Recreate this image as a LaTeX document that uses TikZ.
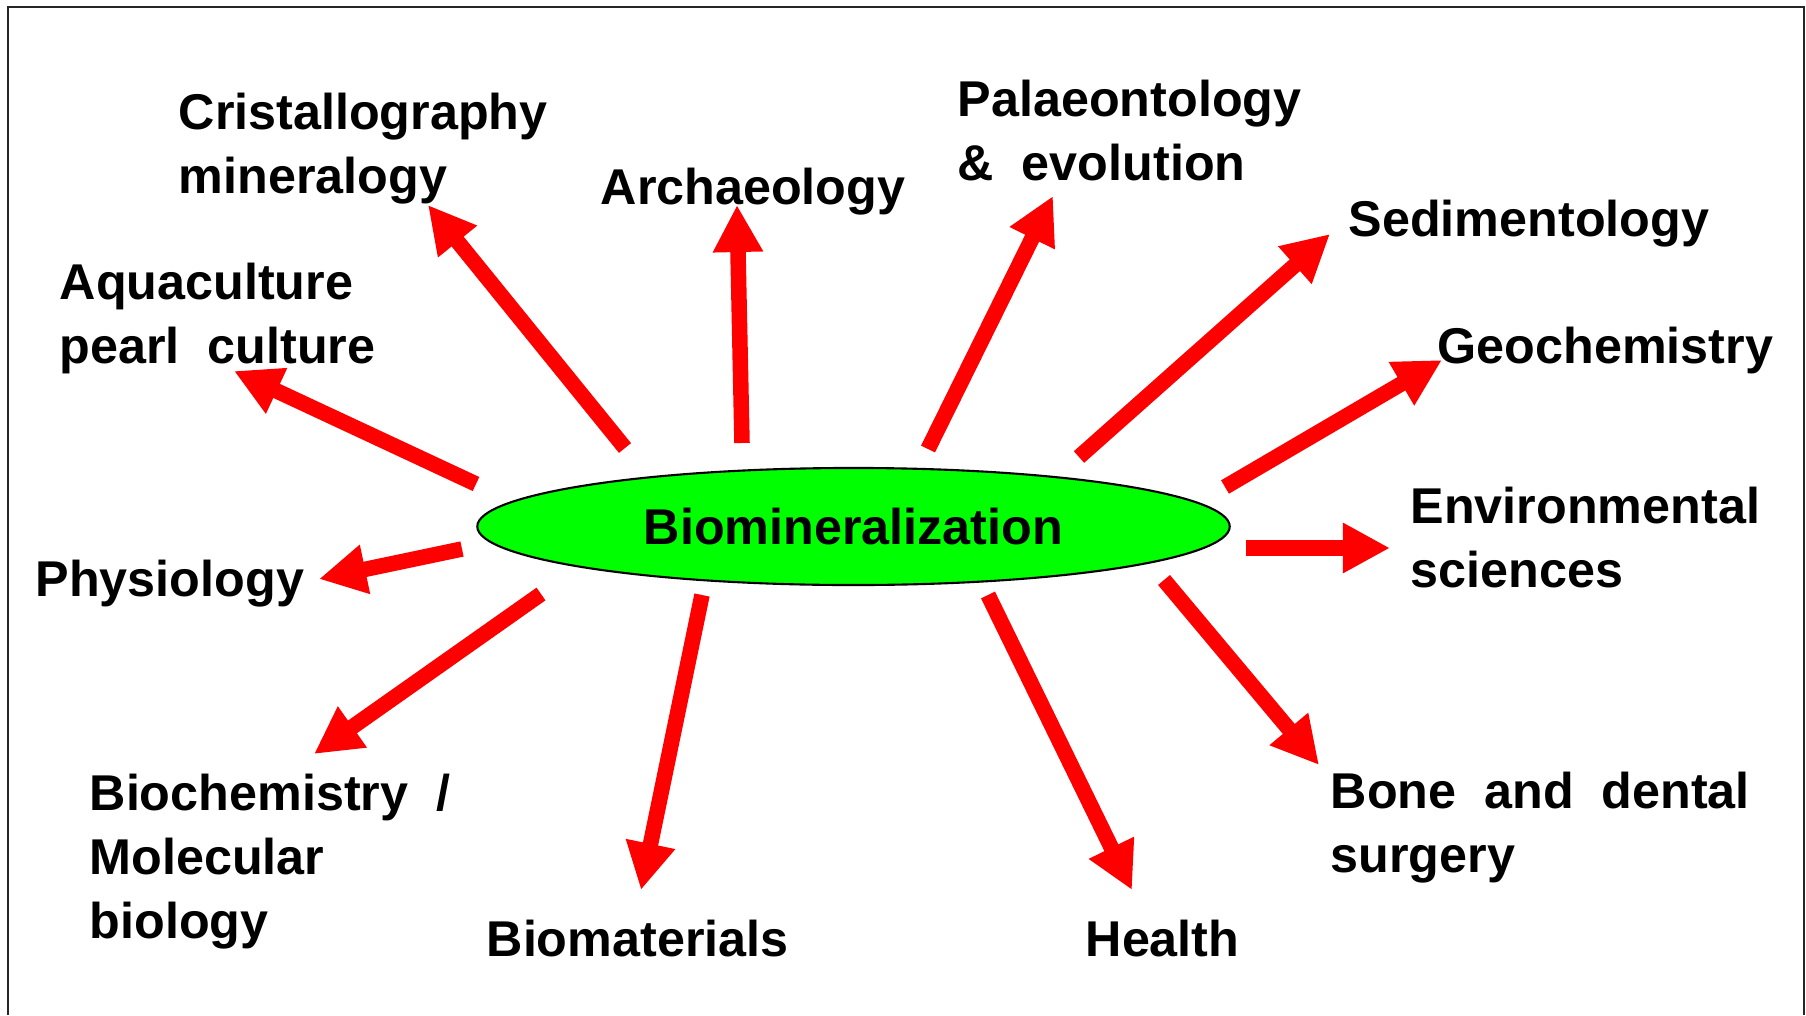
\documentclass[tikz,border=0pt]{standalone}
\usepackage{fontspec}
\setmainfont[WordSpace=2]{Liberation Sans}
\usetikzlibrary{arrows.meta,shapes.geometric}
\definecolor{limegreen}{RGB}{0,255,0}
\definecolor{purered}{RGB}{255,0,0}

\begin{document}
\begin{tikzpicture}[x=0.01cm, y=-0.01cm,
        topic/.style={anchor=base west, align=left, inner sep=0pt,
                      font=\fontsize{14.3}{18.2}\selectfont\bfseries},
        arr/.style={-{Triangle[length=0.47cm,width=0.47cm]}, line width=0.155cm, purered}
    ]
    \useasboundingbox (0,0) rectangle (1806,1015);
    % open frame
    \coordinate (fbl) at (8,1015);
    \coordinate (ftl) at (8,7);
    \coordinate (ftr) at (1804,7);
    \coordinate (fbr) at (1804,1015);
    \draw[line width=0.6pt, black!85] (fbl) -- (ftl) -- (ftr) -- (fbr);

    \node[ellipse, draw, line width=0.6pt, fill=limegreen, minimum width=7.52cm,
          minimum height=1.17cm, inner sep=0pt,
          font=\fontsize{14.3}{18.2}\selectfont\bfseries] (bio) at (853.5,526.5) {Biomineralization};

    % labels (anchored at the baseline of their last line)
    \node[topic] (cry) at (178,193) {Cristallography\\mineralogy};
    \node[topic] (arc) at (600,204) {Archaeology};
    \node[topic] (pal) at (957,180) {Palaeontology\\\& evolution};
    \node[topic] (sed) at (1348,236) {Sedimentology};
    \node[topic] (geo) at (1437,363) {Geochemistry};
    \node[topic] (env) at (1410,587) {Environmental\\sciences};
    \node[topic] (bon) at (1330,872) {Bone and dental\\surgery};
    \node[topic] (hea) at (1085,956) {Health};
    \node[topic] (mat) at (486,956) {Biomaterials};
    \node[topic] (bch) at (89,938) {Biochemistry /\\Molecular\\biology};
    \node[topic] (phy) at (35,596) {Physiology};
    \node[topic] (aqu) at (59,363) {Aquaculture\\pearl culture};

    % arrow ends
    \coordinate (cry-s) at (625,448);  \coordinate (cry-t) at (428,205);
    \coordinate (arc-s) at (742,443);  \coordinate (arc-t) at (737,205);
    \coordinate (pal-s) at (928,449);  \coordinate (pal-t) at (1053,196);
    \coordinate (sed-s) at (1079,457); \coordinate (sed-t) at (1330,234);
    \coordinate (geo-s) at (1225,487); \coordinate (geo-t) at (1442,360);
    \coordinate (env-s) at (1246,548); \coordinate (env-t) at (1390,548);
    \coordinate (bon-s) at (1164,580); \coordinate (bon-t) at (1319,765);
    \coordinate (hea-s) at (988,595);  \coordinate (hea-t) at (1132,890);
    \coordinate (mat-s) at (702,595);  \coordinate (mat-t) at (641,890);
    \coordinate (bch-s) at (541,594);  \coordinate (bch-t) at (314,754);
    \coordinate (phy-s) at (462,549);  \coordinate (phy-t) at (319,579);
    \coordinate (aqu-s) at (476,484);  \coordinate (aqu-t) at (234,371);

    \draw[arr] (cry-s) -- (cry-t);
    \draw[arr] (arc-s) -- (arc-t);
    \draw[arr] (pal-s) -- (pal-t);
    \draw[arr] (sed-s) -- (sed-t);
    \draw[arr] (geo-s) -- (geo-t);
    \draw[arr] (env-s) -- (env-t);
    \draw[arr] (bon-s) -- (bon-t);
    \draw[arr] (hea-s) -- (hea-t);
    \draw[arr] (mat-s) -- (mat-t);
    \draw[arr] (bch-s) -- (bch-t);
    \draw[arr] (phy-s) -- (phy-t);
    \draw[arr] (aqu-s) -- (aqu-t);
\end{tikzpicture}
\end{document}
